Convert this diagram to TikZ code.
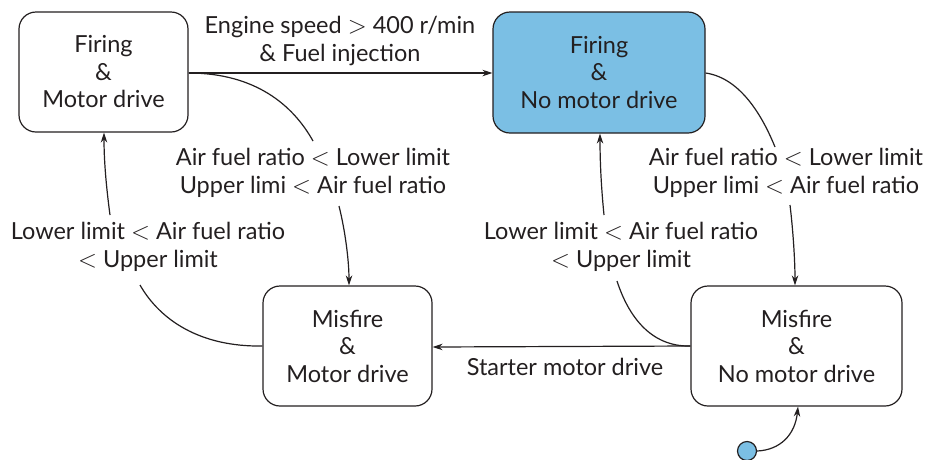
\documentclass[tikz,border=0pt]{standalone}
\usepackage{fontspec}
\setmainfont{Lato}
\usetikzlibrary{arrows.meta,calc}
\definecolor{ink}{HTML}{231F20}
\definecolor{sky}{HTML}{7BBFE4}
\newcommand{\lessth}{\ensuremath{<}}
\newcommand{\grth}{\ensuremath{>}}
\begin{document}
\begin{tikzpicture}[x=1pt,y=-1pt,
  every node/.style={text=ink,font=\fontsize{23.5}{27.5}\selectfont,align=center},
  state/.style={draw=ink,line width=1.2pt,rounded corners=17pt,inner sep=0pt},
  conn/.style={draw=ink,line width=1.2pt},
  arr/.style={conn,-{Stealth[length=10pt,width=6.5pt]}}]
\useasboundingbox (0,0) rectangle (928,459);
% states
\node[state,minimum width=169pt,minimum height=120pt] (A) at (103.5,72) {Firing\\\&\\Motor drive};
\node[state,fill=sky,minimum width=212pt,minimum height=121pt] (B) at (599,72.5) {Firing\\\&\\No motor drive};
\node[state,minimum width=169pt,minimum height=120pt] (C) at (347.5,346) {Misfire\\\&\\Motor drive};
\node[state,minimum width=211pt,minimum height=120pt] (D) at (796.5,346) {Misfire\\\&\\No motor drive};
\node[draw=ink,line width=1.2pt,fill=sky,circle,minimum size=19pt,inner sep=0pt] (S) at (747,451) {};
% labels
\node (L1) at (340,41) {Engine speed \grth{} 400 r/min\\\& Fuel injection};
\node (L2) at (313,173) {Air fuel ratio \lessth{} Lower limit\\Upper limi \lessth{} Air fuel ratio};
\node (L3) at (148,247) {Lower limit \lessth{} Air fuel ratio\\\lessth{} Upper limit};
\node (L4) at (786,173) {Air fuel ratio \lessth{} Lower limit\\Upper limi \lessth{} Air fuel ratio};
\node (L5) at (621,247) {Lower limit \lessth{} Air fuel ratio\\\lessth{} Upper limit};
\node (L6) at (565,367) {Starter motor drive};
% gap coordinates
\coordinate (g1a) at (313,141);
\coordinate (g1b) at (339,206);
\coordinate (g2a) at (140,285);
\coordinate (g2b) at (110,215);
\coordinate (g3a) at (775,147);
\coordinate (g3b) at (790,205);
\coordinate (g4a) at (617,281);
\coordinate (g4b) at (604,215);
% connectors
\draw[arr] (A.east |- 0,73) -- (B.west |- 0,73);
\draw[conn] (A.east |- 0,73) .. controls (255,73) and (293,105) .. (g1a);
\draw[arr] (g1b) .. controls (345,230) and (349,260) .. (C.north -| 349,0);
\draw[conn] (C.west) .. controls (200,347) and (160,320) .. (g2a);
\draw[arr] (g2b) .. controls (106,185) and (104,160) .. (A.south -| 104,0);
\draw[conn] (B.east |- 0,73) .. controls (740,78) and (762,115) .. (g3a);
\draw[arr] (g3b) .. controls (793,230) and (795,260) .. (D.north -| 795,0);
\draw[arr] (D.west) -- (C.east |- 0,347);
\draw[conn] (D.west) .. controls (650,347) and (628,315) .. (g4a);
\draw[arr] (g4b) .. controls (601,185) and (600,160) .. (B.south -| 600,0);
\draw[arr] (S.east) .. controls (780,450) and (795,435) .. (D.south -| 798,0);
\end{tikzpicture}
\end{document}
